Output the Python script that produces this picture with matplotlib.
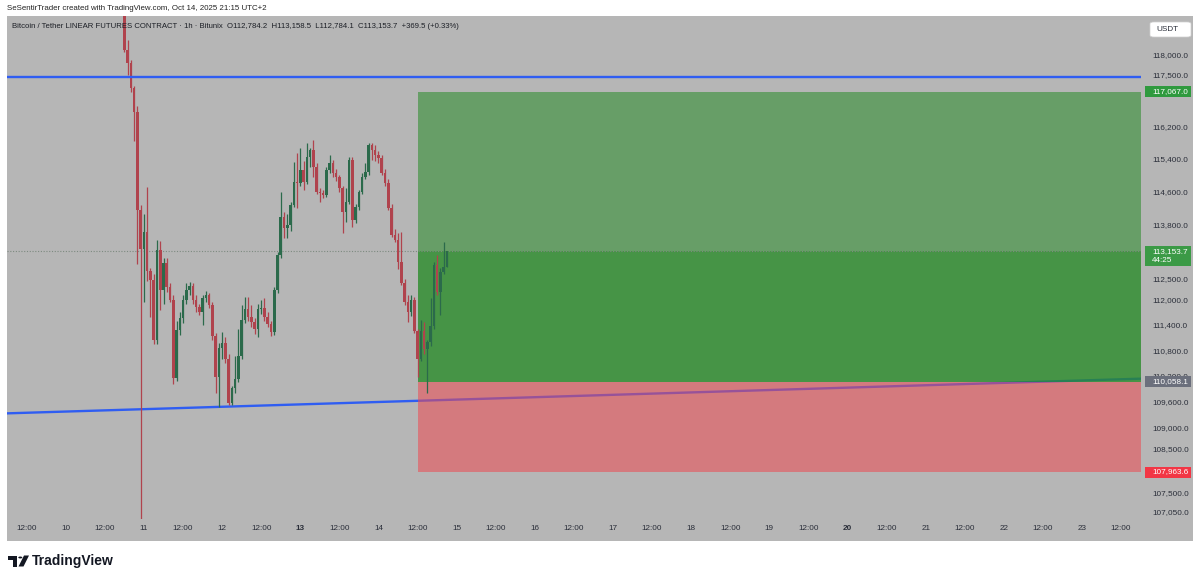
import numpy as np
import matplotlib
matplotlib.use("Agg")
import matplotlib.pyplot as plt
from matplotlib.patches import Rectangle, Polygon, Circle, FancyBboxPatch
from matplotlib.transforms import IdentityTransform
from matplotlib.ticker import NullLocator

W, H = 1200, 577

# hourly candles, hours counted from Oct 10 00:00 (UTC+2)
hours = list(range(18, 118))
opens = [119300, 118110, 117790, 117160, 116560, 114150, 113210, 113620, 112680, 112460,
         111040, 113185, 112225, 112870, 112290, 111985, 110150, 111275, 111560, 111985,
         112225, 112320, 111985, 111820, 111700, 112030, 112100, 111865, 111125, 110165,
         110860, 110980, 110585, 109555, 109905, 110115, 110670, 111525, 111765, 111575,
         111455, 111290, 111765, 111810, 111575, 111410, 111220, 112225, 113075, 113980,
         113725, 113800, 114275, 114835, 114810, 115135, 114835, 115455, 115625, 115210,
         114600, 114575, 114525, 115135, 115305, 115060, 114965, 114695, 114115, 114355,
         115380, 113920, 114235, 114600, 114965, 115085, 115750, 115625, 115505, 115430,
         115060, 114810, 114210, 113555, 113435, 112910, 112405, 111930, 111695, 111985,
         111245, 110585, 111245, 110820, 111000, 111360, 112835, 112180, 112670, 112784.2]
highs = [119800, 118360, 117850, 117200, 116700, 114270, 114055, 114710, 112750, 112600,
         113420, 113400, 112990, 113000, 112400, 112100, 111490, 111700, 112100, 112400,
         112420, 112400, 112100, 111900, 112100, 112200, 112150, 111950, 111200, 110980,
         111240, 111100, 110700, 109950, 110660, 111290, 111870, 112070, 112070, 111870,
         111550, 111900, 112000, 112030, 111700, 111500, 112300, 113150, 114590, 114110,
         114060, 114350, 115330, 115550, 115675, 115350, 115800, 115675, 115870, 115300,
         114700, 114650, 115200, 115500, 115380, 115150, 115000, 114750, 114700, 115450,
         115450, 114300, 114650, 115050, 115300, 115800, 115800, 115750, 115600, 115500,
         115150, 114900, 114300, 113700, 113605, 113630, 112500, 112100, 112100, 112050,
         111300, 111525, 111460, 111050, 112030, 112900, 113075, 112750, 113390, 113158.5]
lows = [118060, 117480, 117060, 115850, 112850, 102000, 111940, 112440, 111580, 110950,
        110950, 111750, 111900, 112180, 111940, 110000, 110080, 111150, 111450, 111900,
        112100, 111900, 111700, 111630, 111390, 111950, 111800, 111050, 109790, 109460,
        110585, 110500, 109510, 109510, 109800, 110050, 110600, 111450, 111500, 111350,
        111170, 111100, 111650, 111500, 111350, 111130, 111150, 112150, 113000, 113480,
        113480, 113650, 114230, 114210, 114750, 114640, 114780, 115200, 114960, 114550,
        114355, 114450, 114480, 115050, 114950, 114850, 114600, 113605, 113870, 114300,
        113750, 113850, 114150, 114550, 114900, 115000, 115380, 115350, 115300, 115000,
        114750, 114150, 113500, 113380, 112720, 112350, 111880, 111455, 111600, 111200,
        110165, 110540, 110700, 109790, 110900, 111300, 112100, 111630, 112600, 112784.1]
closes = [118110, 117790, 117160, 116560, 114150, 113210, 113620, 112680, 112460, 111040,
          113185, 112225, 112870, 112290, 111985, 110150, 111275, 111560, 111985, 112225,
          112320, 111985, 111820, 111700, 112030, 112100, 111865, 111125, 110165, 110860,
          110980, 110585, 109555, 109905, 110115, 110670, 111525, 111765, 111575, 111455,
          111290, 111765, 111810, 111575, 111410, 111220, 112225, 113075, 113980, 113725,
          113800, 114275, 114835, 114810, 115135, 114835, 115455, 115625, 115210, 114600,
          114575, 114525, 115135, 115305, 115060, 114965, 114695, 114115, 114355, 115380,
          113920, 114235, 114600, 114965, 115085, 115750, 115625, 115505, 115430, 115060,
          114810, 114210, 113555, 113435, 112910, 112405, 111930, 111695, 111985, 111245,
          110585, 111245, 110820, 111000, 111360, 112835, 112180, 112670, 112784.2, 113153.7]

price_ticks = [118000, 117500, 116200, 115400, 114600, 113800, 112500, 112000,
               111400, 110800, 110200, 109600, 109000, 108500, 107500, 107050]
day_numbers = list(range(10, 24))
bold_days = [13, 20]

resistance = 117423
trend_times = [-18.05, 330.1]
trend_prices = [109320, 110130]
entry, target, stop, last = 110058.1, 117067.0, 107963.6, 113153.7
pos_times = [108, 330]

BG = '#b6b6b6'
UP = '#2b6a4b'
DOWN = '#b0434d'
BLUE = '#2f5df2'
TXT = '#2a2e39'
FONT = ['Liberation Sans', 'DejaVu Sans']

fig = plt.figure(figsize=(W / 100, H / 100), dpi=100)
fig.patch.set_facecolor('white')


def fx(px):
    return px / W


def fy(py):
    return 1 - py / H


fig.add_artist(Rectangle((fx(6.5), fy(541)), (1193 - 6.5) / W, (541 - 16) / H,
                         transform=fig.transFigure, fc=BG, ec='none', zorder=0))

ax = fig.add_axes([fx(7), fy(519), (1141 - 7) / W, (519 - 16) / H])
ax.set_facecolor('none')
for s in ax.spines.values():
    s.set_visible(False)
ax.set_yscale('log')

# candles
t = np.array(hours)
o = np.array(opens)
c = np.array(closes)
hi = np.maximum(np.array(highs), np.maximum(o, c))
lo = np.minimum(np.array(lows), np.minimum(o, c))
cols = np.where(c >= o, UP, DOWN)
ax.vlines(t, lo, hi, colors=cols, lw=0.9, zorder=3)
ax.bar(t, np.maximum(np.abs(c - o), 18), bottom=np.minimum(o, c), width=0.78,
       color=cols, lw=0, zorder=3.1)

# lines
ax.axhline(resistance, color=BLUE, lw=1.7, zorder=4)
ax.plot(trend_times, trend_prices, color=BLUE, lw=1.7, zorder=1.5)
ax.axhline(last, color='#7d8a80', lw=0.8, ls=(0, (1, 1.5)), zorder=2.5)

# long position tool
ax.fill_between(pos_times, entry, target, color='#278b27', alpha=0.55, lw=0, zorder=2)
ax.fill_between(pos_times, stop, entry, color='#ed4a51', alpha=0.55, lw=0, zorder=2)
ax.fill_between(pos_times, entry, last, color='#278b27', alpha=0.5, lw=0, zorder=2.05)

ax.set_xlim(-18.05, 330.1)
ax.set_ylim(106890, 118965)

# axes ticks
ax.yaxis.tick_right()
ax.set_yticks(price_ticks)
ax.set_yticklabels([f'{p:,.1f}' for p in price_ticks])
ax.yaxis.set_minor_locator(NullLocator())
ax.tick_params(axis='y', length=0, pad=8, labelsize=5.9, labelcolor=TXT)

tick_hours = []
tick_labels = []
for i, d in enumerate(day_numbers):
    tick_hours += [i * 24 - 12, i * 24]
    tick_labels += ['12:00', str(d)]
tick_hours.append(len(day_numbers) * 24 - 12)
tick_labels.append('12:00')
ax.set_xticks(tick_hours)
ax.set_xticklabels(tick_labels)
ax.tick_params(axis='x', length=0, pad=4.5, labelsize=5.9, labelcolor=TXT)
for lab in ax.get_xticklabels() + ax.get_yticklabels():
    lab.set_fontfamily(FONT)
    if lab.get_text() in [str(b) for b in bold_days]:
        lab.set_fontweight('bold')

# price-scale label boxes
idt = IdentityTransform()


def ypix(p):
    return ax.transData.transform((0, p))[1]


for price, col, lines in [(target, '#2f9a3e', [f'{target:,.1f}']),
                          (entry, '#6b6f7c', [f'{entry:,.1f}']),
                          (stop, '#f23645', [f'{stop:,.1f}']),
                          (last, '#3b9a46', [f'{last:,.1f}', '44:25'])]:
    yc = ypix(price)
    hgt = 11 if len(lines) == 1 else 20
    top = yc + 5.5
    fig.add_artist(Rectangle((1145, top - hgt), 46, hgt, transform=idt,
                             fc=col, ec='none', zorder=5))
    for k, s in enumerate(lines):
        fig.text(1152, top - 5.5 - 9 * k, s, transform=idt, color='white',
                 fontsize=5.9, va='center', ha='left', family=FONT, zorder=6)

fig.add_artist(FancyBboxPatch((fx(1150), fy(37)), 41 / W, 15 / H,
                              boxstyle='round,pad=0,rounding_size=0.003',
                              transform=fig.transFigure, fc='white', ec='#d0d0d0',
                              lw=0.5, zorder=5))
fig.text(fx(1156), fy(29.5), 'USDT', fontsize=5.9, color=TXT, va='center',
         family=FONT, zorder=6)

# header + legend
fig.text(fx(7), fy(8.5), 'SeSentirTrader created with TradingView.com, Oct 14, 2025 21:15 UTC+2',
         fontsize=5.7, color='#222222', va='center', family=FONT)
fig.text(fx(11.5), fy(27), 'Bitcoin / Tether LINEAR FUTURES CONTRACT \u00b7 1h \u00b7 Bitunix  '
         'O112,784.2  H113,158.5  L112,784.1  C113,153.7  +369.5 (+0.33%)',
         fontsize=5.6, color='#1c1f26', va='center', family=FONT, zorder=6)

# TradingView footer logo


def P(x, y):
    return (fx(x), fy(y))


logo = '#131722'
fig.add_artist(Polygon([P(8, 555.5), P(17, 555.5), P(17, 566.5), P(13, 566.5),
                        P(13, 559.5), P(8, 559.5)], closed=True,
                       transform=fig.transFigure, fc=logo, ec='none'))
fig.add_artist(Circle(P(20.3, 557.5), 2.0 / W, transform=fig.transFigure,
                      fc=logo, ec='none'))
fig.add_artist(Polygon([P(18.5, 566.5), P(23.5, 566.5), P(29, 555.5), P(24, 555.5)],
                       closed=True, transform=fig.transFigure, fc=logo, ec='none'))
fig.text(fx(31.5), fy(561), 'TradingView', fontsize=10, fontweight='bold',
         color=logo, va='center', family=FONT)

fig.savefig('out.png', dpi=100, facecolor='white')
